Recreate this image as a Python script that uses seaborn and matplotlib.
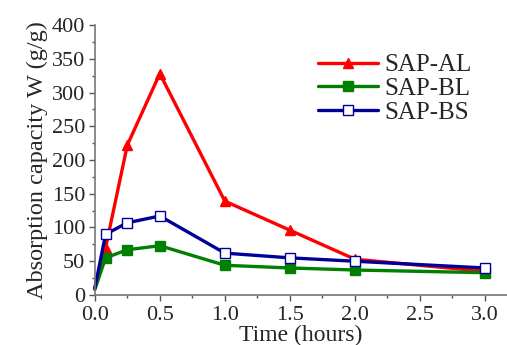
import seaborn as sns
import numpy as np
import matplotlib.pyplot as plt
import pandas as pd
from matplotlib.ticker import MultipleLocator

time_h = [0.0, 0.083, 0.25, 0.5, 1.0, 1.5, 2.0, 3.0]
sap_al = [10, 70, 222, 328, 139, 96, 53, 35]
sap_bl = [8, 55, 67, 73, 44, 40, 37, 33]
sap_bs = [10, 90, 107, 117, 62, 55, 50, 40]

names = ["SAP-AL", "SAP-BL", "SAP-BS"]
colors = ["#ff0000", "#008000", "#000099"]
markers = ["^", "s", "s"]
faces = ["#ff0000", "#008000", "white"]

df = pd.DataFrame({"time": time_h, "SAP-AL": sap_al, "SAP-BL": sap_bl, "SAP-BS": sap_bs})

sns.set_style("ticks")
plt.rcParams["font.family"] = ["Liberation Serif", "DejaVu Serif"]

fig = plt.figure(figsize=(5.07, 3.45), dpi=100)
ax = fig.add_axes([0.187, 0.145, 0.813, 0.7825])

for name, c, m, fc in zip(names, colors, markers, faces):
    sns.lineplot(data=df, x="time", y=name, ax=ax, color=c, lw=2.4,
                 marker=m, markersize=7.5, markerfacecolor=fc,
                 markeredgecolor=c, markeredgewidth=1.0,
                 markevery=list(range(1, len(time_h))), label=name,
                 clip_on=False)

ax.set_xlim(0, 3.17)
ax.set_ylim(0, 400)
ax.xaxis.set_major_locator(MultipleLocator(0.5))
ax.xaxis.set_minor_locator(MultipleLocator(0.25))
ax.yaxis.set_major_locator(MultipleLocator(50))
ax.yaxis.set_minor_locator(MultipleLocator(25))
ax.set_xticks([0, 0.5, 1.0, 1.5, 2.0, 2.5, 3.0])
ax.set_xticklabels(["0.0", "0.5", "1.0", "1.5", "2.0", "2.5", "3.0"])
ax.tick_params(axis="both", which="major", direction="out", length=4,
               width=1, color="#555555", labelsize=16)
ax.tick_params(axis="y", which="major", pad=3)
ax.tick_params(axis="x", which="major", pad=4)
ax.tick_params(axis="both", which="minor", direction="out", length=2.5,
               width=1, color="#555555")
for s in ["top", "right"]:
    ax.spines[s].set_visible(False)
for s in ["left", "bottom"]:
    ax.spines[s].set_color("#777777")
    ax.spines[s].set_linewidth(1.2)

ax.set_xlabel("Time (hours)", fontsize=17, labelpad=0)
ax.set_ylabel("Absorption capacity W (g/g)", fontsize=17.5, labelpad=3)

ax.legend(loc="upper left", bbox_to_anchor=(0.518, 0.93), frameon=False,
          fontsize=18, handlelength=2.4, handletextpad=0.25,
          labelspacing=0.05, borderaxespad=0)

fig.savefig("out.png", dpi=100)
